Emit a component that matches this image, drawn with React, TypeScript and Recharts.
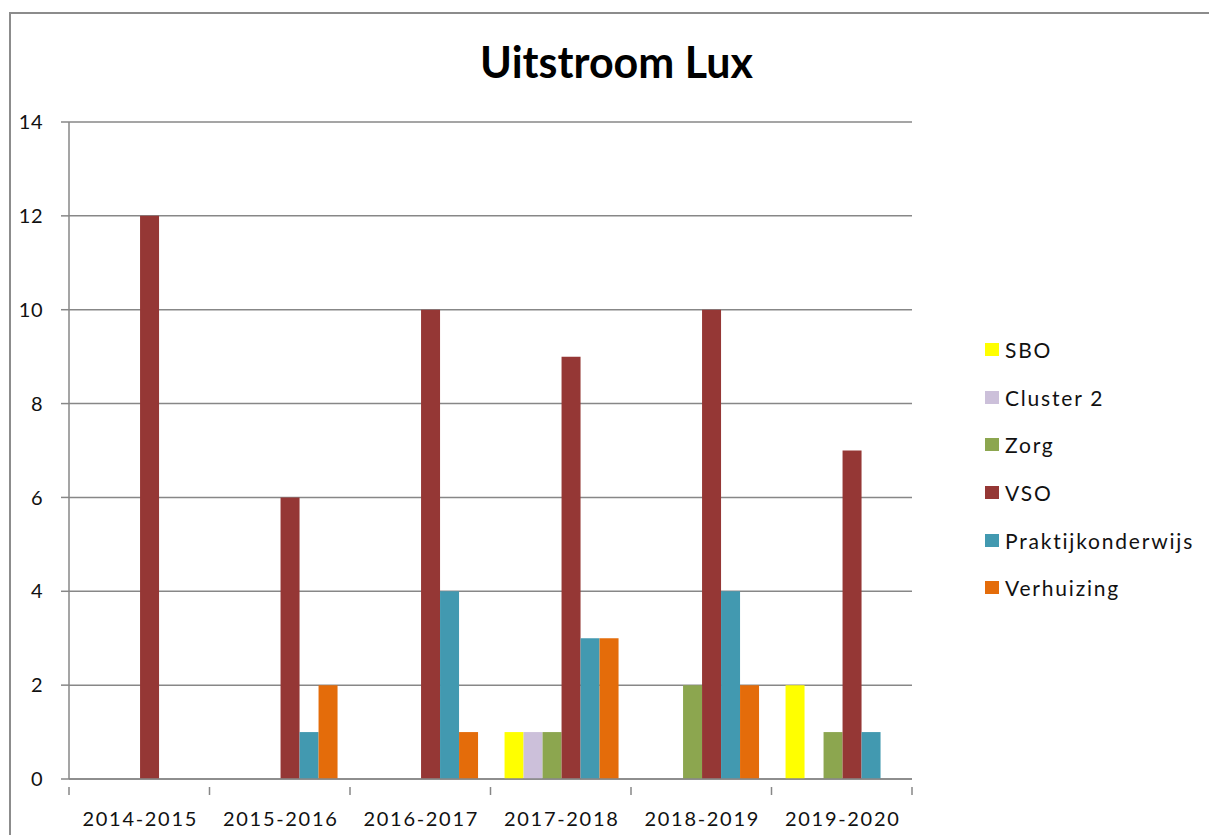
import { Bar, BarChart, CartesianGrid, Legend, XAxis, YAxis } from 'recharts';

const years = ['2014-2015', '2015-2016', '2016-2017', '2017-2018', '2018-2019', '2019-2020'];
const sbo = [0, 0, 0, 1, 0, 2];
const cluster2 = [0, 0, 0, 1, 0, 0];
const zorg = [0, 0, 0, 1, 2, 1];
const vso = [12, 6, 10, 9, 10, 7];
const praktijk = [0, 1, 4, 3, 4, 1];
const verhuizing = [0, 2, 1, 3, 2, 0];
const yTicks = [0, 2, 4, 6, 8, 10, 12, 14];

const series = [
  { key: 'SBO', values: sbo, color: '#FFFF00' },
  { key: 'Cluster 2', values: cluster2, color: '#CCC0DA' },
  { key: 'Zorg', values: zorg, color: '#8CA64F' },
  { key: 'VSO', values: vso, color: '#953735' },
  { key: 'Praktijkonderwijs', values: praktijk, color: '#4299B0' },
  { key: 'Verhuizing', values: verhuizing, color: '#E46C0A' },
];

const data = years.map((year, i) => {
  const row: Record<string, string | number> = { year };
  series.forEach((s) => {
    row[s.key] = s.values[i];
  });
  return row;
});

const FONT = 'Lato, "Open Sans", sans-serif';
const GRID = '#878787';
const TEXT = '#111';

function XTick(props: any) {
  const { x, y, payload, index } = props;
  const half = payload.offset || 0;
  return (
    <g>
      <line x1={x - half} y1={y} x2={x - half} y2={y + 8} stroke={GRID} strokeWidth={1.5} />
      {index === years.length - 1 && (
        <line x1={x + half} y1={y} x2={x + half} y2={y + 8} stroke={GRID} strokeWidth={1.5} />
      )}
      <text
        x={x + 1}
        y={y + 39}
        textAnchor="middle"
        fill={TEXT}
        fontSize={20}
        fontFamily={FONT}
        letterSpacing={1.7}
      >
        {payload.value}
      </text>
    </g>
  );
}

// legend drawn in series order (not sorted)
function LegendList() {
  return (
    <div style={{ fontFamily: FONT }}>
      {series.map((s) => (
        <div key={s.key} style={{ display: 'flex', alignItems: 'center', height: 47.6 }}>
          <span style={{ width: 14, height: 13, background: s.color, display: 'inline-block' }} />
          <span style={{ marginLeft: 6, fontSize: 21, color: TEXT, letterSpacing: 1.8 }}>{s.key}</span>
        </div>
      ))}
    </div>
  );
}

export default function App() {
  return (
    <div style={{ position: 'absolute', left: 0, top: 0, width: 1209, height: 835, background: '#fff', overflow: 'hidden' }}>
      <div
        style={{
          position: 'absolute',
          left: 9,
          top: 12,
          width: 1300,
          height: 900,
          borderTop: '2px solid #8c8c8c',
          borderLeft: '2px solid #8c8c8c',
        }}
      />
      <div
        style={{
          position: 'absolute',
          left: 0,
          top: 34,
          width: 1233,
          textAlign: 'center',
          fontFamily: FONT,
          fontWeight: 700,
          fontSize: 43,
          color: '#000',
          lineHeight: '56px',
        }}
      >
        Uitstroom Lux
      </div>
      <div style={{ position: 'absolute', left: 0, top: 0 }}>
        <BarChart
          width={1209}
          height={835}
          data={data}
          margin={{ top: 122, right: 297, bottom: 0, left: 0 }}
          barCategoryGap="10%"
          barGap={0}
        >
          <CartesianGrid vertical={false} stroke={GRID} strokeWidth={1.5} />
          <XAxis
            dataKey="year"
            height={56}
            tickLine={false}
            axisLine={{ stroke: GRID, strokeWidth: 1.5 }}
            tick={<XTick />}
            interval={0}
          />
          <YAxis
            width={69}
            domain={[0, 14]}
            ticks={yTicks}
            interval={0}
            tickSize={8}
            tickMargin={18}
            axisLine={{ stroke: GRID, strokeWidth: 1.5 }}
            tickLine={{ stroke: GRID, strokeWidth: 1.5 }}
            tick={{ fill: TEXT, fontSize: 20, fontFamily: FONT, letterSpacing: 0.5 }}
          />
          <Legend
            layout="vertical"
            align="center"
            verticalAlign="middle"
            content={<LegendList />}
            wrapperStyle={{ left: 985, top: 326, width: 224 }}
          />
          {series.map((s) => (
            <Bar key={s.key} dataKey={s.key} fill={s.color} isAnimationActive={false} />
          ))}
        </BarChart>
      </div>
    </div>
  );
}
